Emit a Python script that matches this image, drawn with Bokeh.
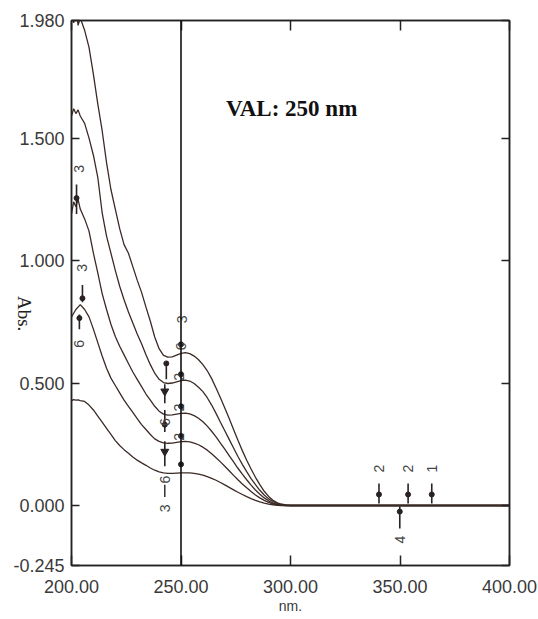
import math
from bokeh.plotting import figure
from bokeh.models import (Range1d, FixedTicker, LinearAxis, NumeralTickFormatter,
                          CustomJSTickFormatter, Label, Span, ColumnDataSource)
from bokeh.embed import file_html
from bokeh.resources import INLINE
from bokeh.core.properties import value

# ---------------- data ----------------
wavelength = [200, 201, 202, 203, 204,
              206, 208, 210, 212, 214, 216, 218, 220, 222, 224, 226, 228, 230, 232, 234, 236, 238, 240,
              242, 244, 246, 248, 250, 252, 254, 256, 258, 260, 262, 264, 266, 268, 270, 272, 274, 276,
              278, 280, 282, 284, 286, 288, 290, 292, 294, 296, 298, 300, 400]

abs_5 = [2.03, 1.97, 2.04, 1.96, 1.99,
         1.94, 1.87, 1.76, 1.64, 1.53, 1.40, 1.29, 1.21, 1.13, 1.065, 1.03, 0.975, 0.92, 0.87, 0.81, 0.752, 0.688, 0.64,
         0.613, 0.606, 0.607, 0.614, 0.621, 0.624, 0.62, 0.61, 0.595, 0.575, 0.55, 0.518, 0.48, 0.44, 0.398, 0.355, 0.31, 0.266,
         0.224, 0.185, 0.149, 0.115, 0.085, 0.058, 0.037, 0.021, 0.011, 0.005, 0.002, 0.0, 0.0]

abs_4 = [1.59, 1.62, 1.60, 1.615, 1.59,
         1.56, 1.50, 1.43, 1.34, 1.195, 1.10, 1.03, 0.96, 0.895, 0.84, 0.79, 0.745, 0.70, 0.66, 0.615, 0.575, 0.54, 0.515,
         0.502, 0.498, 0.50, 0.505, 0.51, 0.512, 0.508, 0.498, 0.483, 0.465, 0.44, 0.41, 0.376, 0.34, 0.305, 0.27, 0.235, 0.20,
         0.168, 0.138, 0.11, 0.085, 0.062, 0.043, 0.027, 0.016, 0.009, 0.004, 0.001, 0.0, 0.0]

abs_3 = [1.19, 1.24, 1.22, 1.25, 1.21,
         1.17, 1.12, 1.03, 0.95, 0.865, 0.80, 0.74, 0.69, 0.65, 0.615, 0.58, 0.545, 0.515, 0.485, 0.455, 0.43, 0.405, 0.385,
         0.373, 0.369, 0.37, 0.373, 0.376, 0.377, 0.374, 0.367, 0.356, 0.342, 0.324, 0.303, 0.28, 0.255, 0.23, 0.204, 0.178, 0.152,
         0.128, 0.105, 0.083, 0.063, 0.046, 0.031, 0.019, 0.01, 0.005, 0.002, 0.0, 0.0, 0.0]

abs_2 = [0.77, 0.785, 0.80, 0.81, 0.82,
         0.80, 0.77, 0.72, 0.665, 0.61, 0.56, 0.52, 0.49, 0.46, 0.43, 0.405, 0.38, 0.355, 0.33, 0.31, 0.29, 0.272, 0.262,
         0.256, 0.254, 0.255, 0.258, 0.261, 0.262, 0.26, 0.255, 0.248, 0.238, 0.226, 0.211, 0.195, 0.178, 0.16, 0.142, 0.123, 0.105,
         0.088, 0.072, 0.057, 0.043, 0.031, 0.021, 0.013, 0.007, 0.003, 0.001, 0.0, 0.0, 0.0]

abs_1 = [0.428, 0.432, 0.43, 0.431, 0.428,
         0.425, 0.41, 0.39, 0.365, 0.34, 0.315, 0.29, 0.265, 0.245, 0.228, 0.213, 0.198, 0.185, 0.174, 0.164, 0.153, 0.144, 0.137,
         0.133, 0.131, 0.131, 0.132, 0.133, 0.133, 0.133, 0.131, 0.128, 0.124, 0.118, 0.111, 0.103, 0.094, 0.084, 0.074, 0.064, 0.054,
         0.045, 0.036, 0.028, 0.021, 0.015, 0.01, 0.006, 0.003, 0.001, 0.0, 0.0, 0.0, 0.0]

series = [abs_5, abs_4, abs_3, abs_2, abs_1]

x_ticks = [200, 250, 300, 350, 400]
y_ticks = [-0.245, 0.0, 0.5, 1.0, 1.5, 1.98]
y_title_at = [0.711]   # where the vertical "Abs." title ends
cursor_wl = 250

# peak/valley pick markers: wavelength, dot absorbance, stem from, stem to
pick_wl   = [202.3, 205.0, 203.6, 243.3, 242.6, 250.0, 250.0, 250.0, 250.0, 250.0, 340.4, 353.7, 364.5, 349.9]
pick_dot  = [1.255, 0.846, 0.765, 0.580, 0.330, 0.658, 0.536, 0.405, 0.284, 0.168, 0.045, 0.045, 0.045, -0.025]
pick_y0   = [1.31, 0.90, 0.78, 0.580, 0.39, 0.658, 0.536, 0.405, 0.284, 0.168, 0.09, 0.09, 0.09, -0.004]
pick_y1   = [1.19, 0.83, 0.72, 0.515, 0.30, 0.658, 0.536, 0.405, 0.284, 0.168, 0.008, 0.008, 0.008, -0.094]
# arrow-head (triangle) picks
tri_wl  = [242.6, 242.6]
tri_abs = [0.466, 0.220]
tri_y0  = [0.495, 0.262]
tri_y1  = [0.417, 0.160]
# stem between the two labels under the lowest curve
stem_wl = [242.6]
stem_y0 = [0.085]
stem_y1 = [0.035]
# rotated pick labels
lab_wl   = [203.4, 204.6, 203.6, 242.6, 242.6, 242.6, 250.5, 249.8, 249.3, 249.3, 249.3, 340.4, 353.7, 364.5, 349.9]
lab_abs  = [1.374, 0.970, 0.660, 0.340, 0.106, -0.012, 0.760, 0.650, 0.525, 0.400, 0.280, 0.151, 0.151, 0.151, -0.139]
lab_text = ["3", "3", "6", "6", "6", "3", "3", "6", "2", "2", "2", "2", "2", "1", "4"]

# ---------------- figure ----------------
p = figure(width=538, height=619, output_backend="svg", toolbar_location=None,
           x_range=Range1d(200, 400), y_range=Range1d(-0.245, 1.98),
           min_border_left=70, min_border_right=29, min_border_top=20, min_border_bottom=54,
           background_fill_color="white", border_fill_color="white")
p.xgrid.visible = False
p.ygrid.visible = False
p.outline_line_color = "#222222"
p.outline_line_width = 1.5

AX = "#222222"
TXT = "#3a3a3a"

def style_axis(ax, tick_in):
    ax.axis_line_color = AX
    ax.axis_line_width = 1.5
    ax.major_tick_line_color = AX
    ax.major_tick_line_width = 1.5
    ax.major_tick_in = tick_in
    ax.major_tick_out = 0
    ax.minor_tick_line_color = None

xa = p.xaxis[0]
xa.ticker = FixedTicker(ticks=x_ticks)
xa.formatter = NumeralTickFormatter(format="0.00")
style_axis(xa, 10)
xa.major_label_standoff = 14
xa.major_label_text_font = "Liberation Sans"
xa.major_label_text_font_size = "18px"
xa.major_label_text_color = TXT
xa.axis_label = "nm."
xa.axis_label_standoff = 2
xa.axis_label_text_font = "Liberation Sans"
xa.axis_label_text_font_size = "14px"
xa.axis_label_text_font_style = "normal"
xa.axis_label_text_color = TXT

ya = p.yaxis[0]
ya.ticker = FixedTicker(ticks=y_ticks)
ya.formatter = NumeralTickFormatter(format="0.000")
style_axis(ya, 8)
ya.major_label_standoff = 7
ya.major_label_text_font = "Liberation Sans"
ya.major_label_text_font_size = "18px"
ya.major_label_text_color = TXT

blank = CustomJSTickFormatter(code="return '';")

# outer, otherwise invisible left axis whose single tick label is the "Abs." title
ylab = LinearAxis(ticker=FixedTicker(ticks=y_title_at),
                  formatter=CustomJSTickFormatter(code="return 'Abs.';"))
ylab.axis_line_color = None
ylab.major_tick_line_color = None
ylab.minor_tick_line_color = None
ylab.major_tick_in = 0
ylab.major_tick_out = 0
ylab.major_label_standoff = -14
ylab.major_label_orientation = -math.pi / 2
ylab.major_label_text_font = "Liberation Serif"
ylab.major_label_text_font_size = "19px"
ylab.major_label_text_color = "#222222"
p.add_layout(ylab, "left")

top = LinearAxis(ticker=FixedTicker(ticks=x_ticks), formatter=blank)
style_axis(top, 10)
top.major_label_standoff = 0
p.add_layout(top, "above")
right = LinearAxis(ticker=FixedTicker(ticks=y_ticks), formatter=blank)
style_axis(right, 8)
right.major_label_standoff = 0
p.add_layout(right, "right")

# spectra
CURVE = "#3b2a26"
for s in series:
    p.line(x=wavelength, y=s, line_color=CURVE, line_width=1.3)

# cursor line
p.add_layout(Span(location=cursor_wl, dimension="height", line_color="#111111", line_width=1.6))

# pick markers
src = ColumnDataSource(dict(x=pick_wl, y=pick_dot, y0=pick_y0, y1=pick_y1))
p.segment(x0="x", y0="y0", x1="x", y1="y1", source=src, line_color="#2a2222", line_width=1.6)
p.scatter(x="x", y="y", source=src, size=5, marker="circle", fill_color="#2a2222", line_color="#2a2222")
tsrc = ColumnDataSource(dict(x=tri_wl, y=tri_abs, y0=tri_y0, y1=tri_y1))
p.segment(x0="x", y0="y0", x1="x", y1="y1", source=tsrc, line_color="#2a2222", line_width=1.6)
p.scatter(x="x", y="y", source=tsrc, size=8, marker="inverted_triangle", fill_color="#2a2222", line_color="#2a2222")
p.segment(x0=stem_wl, y0=stem_y0, x1=stem_wl, y1=stem_y1, line_color="#2a2222", line_width=1.4)

lsrc = ColumnDataSource(dict(x=lab_wl, y=lab_abs, t=lab_text))
p.text(x="x", y="y", text="t", source=lsrc, angle=math.pi / 2,
       text_font=value("Liberation Sans"), text_font_size="14px", text_color="#444444",
       text_align="center", text_baseline="middle")

# title-like annotation inside the plot
p.add_layout(Label(x=270.6, y=1.62, text="VAL: 250 nm", text_font="Liberation Serif",
                   text_font_style="bold", text_font_size="23px", text_color="#111111",
                   text_baseline="alphabetic", text_align="left"))

open("out.html", "w").write(file_html(p, INLINE))
